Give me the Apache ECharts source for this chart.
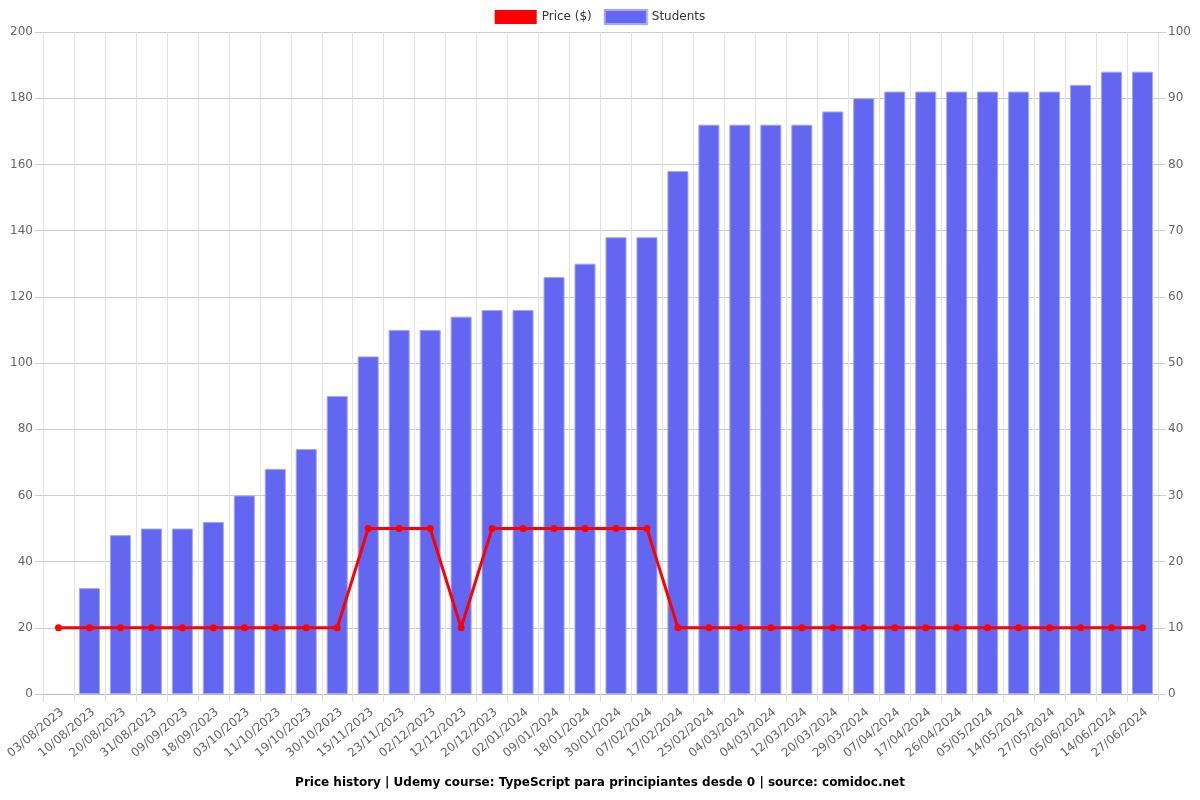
<!DOCTYPE html>
<html>
<head>
<meta charset="utf-8">
<script src="https://cdn.jsdelivr.net/npm/echarts@6/dist/echarts.min.js"></script>
<style>html,body{margin:0;padding:0;background:#fff}#c{width:1200px;height:800px}</style>
</head>
<body>
<div id="c"></div>
<script>
const categories = ["03/08/2023","10/08/2023","20/08/2023","31/08/2023","09/09/2023","18/09/2023","03/10/2023","11/10/2023","19/10/2023","30/10/2023","15/11/2023","23/11/2023","02/12/2023","12/12/2023","20/12/2023","02/01/2024","09/01/2024","18/01/2024","30/01/2024","07/02/2024","17/02/2024","25/02/2024","04/03/2024","04/03/2024","12/03/2024","20/03/2024","29/03/2024","07/04/2024","17/04/2024","26/04/2024","05/05/2024","14/05/2024","27/05/2024","05/06/2024","14/06/2024","27/06/2024"];
const price = [20,20,20,20,20,20,20,20,20,20,50,50,50,20,50,50,50,50,50,50,20,20,20,20,20,20,20,20,20,20,20,20,20,20,20,20];
const students = [null,16,24,25,25,26,30,34,37,45,51,55,55,57,58,58,63,65,69,69,79,86,86,86,86,88,90,91,91,91,91,91,91,92,94,94];
const titleText = "Price history | Udemy course: TypeScript para principiantes desde 0 | source: comidoc.net";

const chart = echarts.init(document.getElementById('c'), null, {renderer:'canvas'});
const font = "DejaVu Sans";
chart.setOption({
  animation:false,
  textStyle:{fontFamily:font},
  title:{text:titleText,left:'center',bottom:6,textStyle:{fontSize:12,fontWeight:'bold',color:'#000',fontFamily:font}},
  legend:{top:4,left:'center',itemWidth:42,itemHeight:14,itemGap:12,textStyle:{fontSize:12,color:'#333',fontFamily:font},
    data:[{name:'Price ($)',icon:'rect'},{name:'Students',icon:'rect'}]},
  grid:{left:43,right:42,top:32,bottom:106},
  xAxis:{type:'category',data:categories,boundaryGap:true,
    axisLine:{lineStyle:{color:'#bbb'}},
    axisTick:{show:true,alignWithLabel:false,lineStyle:{color:'#ddd'},length:8},
    splitLine:{show:true,lineStyle:{color:'#e3e3e3'}},
    axisLabel:{rotate:40,fontSize:12,color:'#666',interval:0,margin:12,align:'right',verticalAlign:'top',fontFamily:font}},
  yAxis:[
    {type:'value',min:0,max:200,interval:20,position:'left',
      axisLine:{show:true,lineStyle:{color:'rgba(0,0,0,0)'}},axisTick:{show:true,length:8,lineStyle:{color:'#ccc'}},
      splitLine:{lineStyle:{color:'#ccc'}},
      axisLabel:{fontSize:12,color:'#666',margin:10,fontFamily:font}},
    {type:'value',min:0,max:100,interval:10,position:'right',
      axisLine:{show:true,lineStyle:{color:'rgba(0,0,0,0)'}},axisTick:{show:true,length:8,lineStyle:{color:'#ccc'}},
      splitLine:{show:false},
      axisLabel:{fontSize:12,color:'#666',margin:10,fontFamily:font}}
  ],
  series:[
    {name:'Price ($)',type:'line',yAxisIndex:0,data:price,z:3,
      lineStyle:{color:'#ff0000',width:3},itemStyle:{color:'#ff0000'},
      symbol:'circle',symbolSize:7},
    {name:'Students',type:'bar',yAxisIndex:1,data:students,barWidth:'68%',z:2,
      itemStyle:{color:'#6366f1',borderColor:'#a5a7f7',borderWidth:1}}
  ]
});
</script>
</body>
</html>
